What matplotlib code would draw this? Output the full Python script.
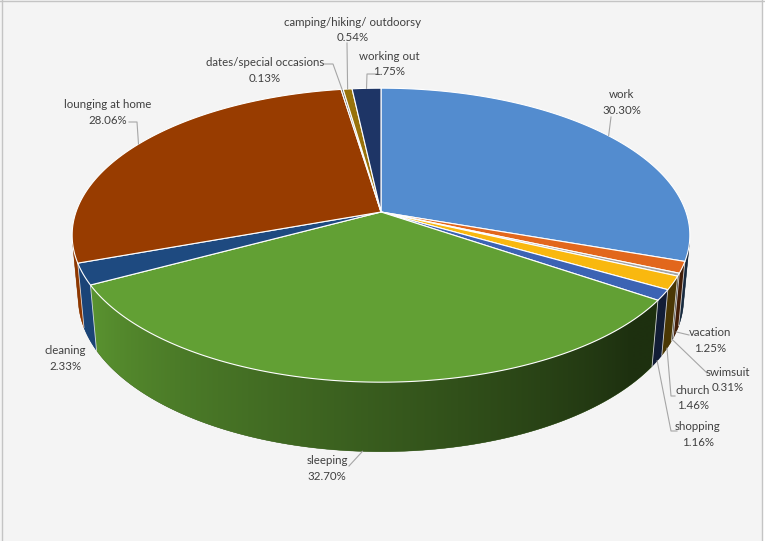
import numpy as np
import matplotlib
matplotlib.use('Agg')
import matplotlib.pyplot as plt
from matplotlib.patches import Polygon, Rectangle
import matplotlib.colors as mcolors

# ---------------- data ----------------
categories = ["work", "vacation", "swimsuit", "church", "shopping", "sleeping",
              "cleaning", "lounging at home", "dates/special occasions",
              "camping/hiking/ outdoorsy", "working out"]
values = [30.30, 1.25, 0.31, 1.46, 1.16, 32.70, 2.33, 28.06, 0.13, 0.54, 1.75]
colors = ["#538ccf", "#e2671c", "#a5a5a5", "#f9b80f", "#3c63b4", "#62a034",
          "#1e4a80", "#983c00", "#636363", "#98720a", "#1e3566"]

# label layout: (center x, first line y, leader start, optional elbow)
label_layout = {
    "work": (622, 95, (611, 117), None),
    "vacation": (710, 333, (689, 335), None),
    "swimsuit": (728, 372, (707, 373), None),
    "church": (693, 390, (675, 396), (671, 396)),
    "shopping": (698, 427, (677, 431), (671, 431)),
    "sleeping": (327, 461, (349, 466), None),
    "cleaning": (65, 351, None, None),
    "lounging at home": (108, 105, (129, 122), (137, 122)),
    "dates/special occasions": (265, 63, (324, 64), (333, 64)),
    "camping/hiking/ outdoorsy": (353, 22, (347, 43), None),
    "working out": (389, 56, (377, 74), (367, 74)),
}

# ---------------- projection ----------------
CX, CY, K = 381.0, 212.0, 305.0
SPHI, CPHI = 0.47, np.sqrt(1 - 0.47 ** 2)
FD = 5.6
DEPTH = 0.235


def proj(theta_deg, Y, r=1.0):
    t = np.radians(theta_deg)
    X = r * np.sin(t)
    Z = -r * np.cos(t)
    zv = Z * CPHI + Y * SPHI
    s = FD / (FD - zv)
    xs = CX + K * X * s
    ys = CY - K * (Y * CPHI - Z * SPHI) * s
    return xs, ys


fig = plt.figure(figsize=(7.65, 5.41), dpi=100, facecolor="#f4f4f4")
ax = fig.add_axes([0, 0, 1, 1])
ax.set_xlim(0, 765)
ax.set_ylim(541, 0)
ax.axis("off")
ax.set_facecolor("#f4f4f4")

# chart-area borders
ax.add_patch(Rectangle((763, 0), 3, 541, facecolor="white", edgecolor="none", zorder=0))
ax.plot([2.5, 2.5], [0, 541], color="#c4c4c4", lw=1.0, zorder=1)
ax.plot([762.5, 762.5], [0, 541], color="#c4c4c4", lw=1.0, zorder=1)
ax.plot([0, 765], [1.0, 1.0], color="#c4c4c4", lw=1.0, zorder=1)

total = float(sum(values))
cum = np.concatenate([[0.0], np.cumsum(values)]) / total * 360.0

# visible range of outer wall
thr = np.degrees(np.arccos(-1.0 / (FD * CPHI)))
vis_lo, vis_hi = thr, 360.0 - thr


def shade(theta):
    return np.clip(0.57 + (theta - 180.0) * 0.0056, 0.30, 0.93)


# mapping screen x -> theta along the wall (monotonic in visible range)
tgrid = np.linspace(vis_lo, vis_hi, 2000)
xgrid, _ = proj(tgrid, -DEPTH * 0.5)
order = np.argsort(xgrid)
xg_sorted, tg_sorted = xgrid[order], tgrid[order]

# ---------------- side walls ----------------
for i, c in enumerate(colors):
    lo, hi = max(cum[i], vis_lo), min(cum[i + 1], vis_hi)
    if lo >= hi:
        continue
    ts = np.linspace(lo, hi, max(3, int((hi - lo) / 0.3) + 3))
    xt, yt = proj(ts, 0.0)
    xb, yb = proj(ts[::-1], -DEPTH)
    pts = list(zip(xt, yt)) + list(zip(xb, yb))
    base = np.array(mcolors.to_rgb(c))
    midc = np.clip(base * shade(0.5 * (lo + hi)), 0, 1)
    poly = Polygon(pts, closed=True, facecolor=midc, edgecolor=midc, lw=0.3, zorder=2)
    ax.add_patch(poly)
    x0, x1 = min(np.min(xt), np.min(xb)) - 2, max(np.max(xt), np.max(xb)) + 2
    y0, y1 = min(np.min(yt), np.min(yb)) - 2, max(np.max(yt), np.max(yb)) + 2
    cols = np.linspace(x0, x1, max(4, int(x1 - x0) * 2))
    th = np.interp(cols, xg_sorted, tg_sorted)
    rgb = np.clip(base[None, :] * shade(th)[:, None], 0, 1)
    img = np.repeat(rgb[None, :, :], 2, axis=0)
    im = ax.imshow(img, extent=(x0, x1, y1, y0), aspect="auto",
                   interpolation="bilinear", zorder=2.5)
    clip = Polygon(pts, closed=True, transform=ax.transData)
    im.set_clip_path(clip)

ax.set_xlim(0, 765)
ax.set_ylim(541, 0)

# white separators on the wall
for a in cum[1:-1]:
    if vis_lo < a < vis_hi:
        xa, ya = proj(a, 0.0)
        xb_, yb_ = proj(a, -DEPTH)
        ax.plot([xa, xb_], [ya, yb_], color="white", lw=0.6, alpha=0.8, zorder=3)

# ---------------- top faces ----------------
cx0, cy0 = proj(0.0, 0.0, r=0.0)
for i, c in enumerate(colors):
    ts = np.linspace(cum[i], cum[i + 1], max(2, int((cum[i + 1] - cum[i]) / 0.5) + 2))
    xs, ys = proj(ts, 0.0)
    pts = [(cx0, cy0)] + list(zip(xs, ys))
    ax.add_patch(Polygon(pts, closed=True, facecolor=c, edgecolor="white",
                         lw=0.8, joinstyle="round", zorder=4))

# ---------------- labels ----------------
TXT = "#404040"
FS = 8.3
for i, name in enumerate(categories):
    x, y1, start, elbow = label_layout[name]
    pct = "%.2f%%" % values[i]
    ax.text(x, y1, name, ha="center", va="center", fontsize=FS, color=TXT,
            family=["Lato", "DejaVu Sans"], zorder=6)
    ax.text(x, y1 + 15.5, pct, ha="center", va="center", fontsize=FS, color=TXT,
            family=["Lato", "DejaVu Sans"], zorder=6)
    if start is None:
        continue
    mid = 0.5 * (cum[i] + cum[i + 1])
    if 90.0 < mid < 270.0:
        axp, ayp = proj(mid, -DEPTH)
    else:
        axp, ayp = proj(mid, 0.0)
    pts = [start] + ([elbow] if elbow else []) + [(axp, ayp)]
    ax.plot([p[0] for p in pts], [p[1] for p in pts], color="#a6a6a6", lw=0.8, zorder=5)

fig.savefig("out.png", dpi=100, facecolor=fig.get_facecolor())
